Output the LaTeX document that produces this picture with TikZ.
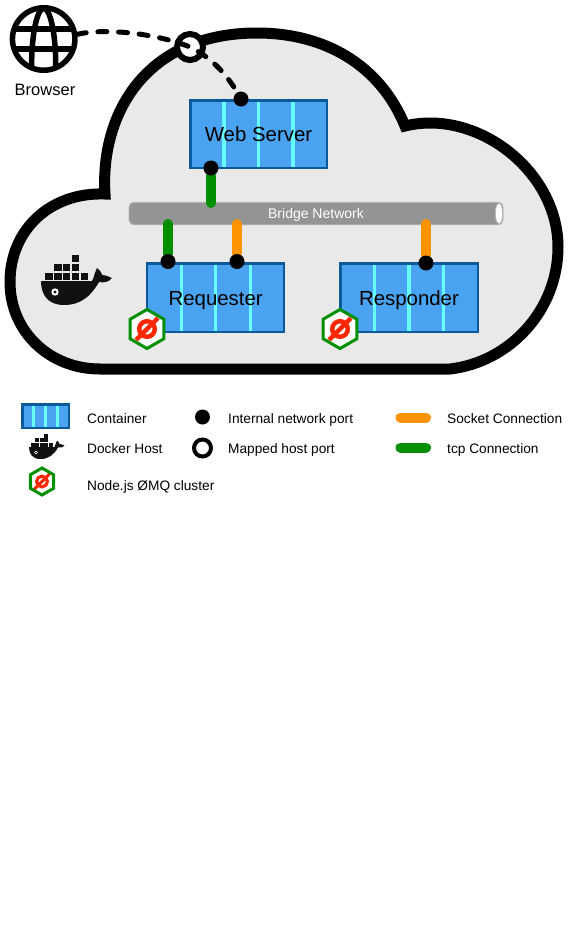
\documentclass[tikz,border=0pt]{standalone}
\usepackage{fontspec}
\setmainfont{Liberation Sans}
\usetikzlibrary{shapes.geometric}
\pgfdeclarelayer{base}
\pgfdeclarelayer{links}
\pgfsetlayers{base,links,main}
\definecolor{cloudgrey}{HTML}{E9E9E9}
\definecolor{bridgegrey}{HTML}{949494}
\definecolor{boxblue}{HTML}{4AA3F0}
\definecolor{boxedge}{HTML}{0A5A9A}
\definecolor{stripecyan}{HTML}{66FFFF}
\definecolor{socketorange}{HTML}{FF9300}
\definecolor{tcpgreen}{HTML}{008F00}
\definecolor{zmqred}{HTML}{FF2600}
\definecolor{whaleblack}{HTML}{111114}
\begin{document}
\begin{tikzpicture}[x=1pt,y=-1pt,
			container/.style={draw=boxedge,fill=boxblue,line width=2.5pt,inner sep=0pt,
				path picture={\foreach \s in {-1,0,1}
					\draw[stripecyan,line width=3.2pt] ([xshift=\s*#1 pt]path picture bounding box.north) -- ([xshift=\s*#1 pt]path picture bounding box.south);}},
			boxlabel/.style={font=\fontsize{20.4}{24}\selectfont,text height=15pt,text depth=0pt},
			legendlabel/.style={anchor=base west,inner sep=0pt,font=\fontsize{13.7}{16}\selectfont},
			port/.style={circle,fill=black,inner sep=0pt,minimum size=15pt},
			mapped/.style={circle,draw=black,fill=white,inner sep=0pt},
			socketlink/.style={socketorange,line width=10pt,line cap=round},
			tcplink/.style={tcpgreen,line width=10pt,line cap=round},
			weblink/.style={black,line width=5pt,line cap=round,dash pattern=on 9pt off 11.7pt},
			badge/.style={regular polygon,regular polygon sides=6,shape border rotate=30,draw=tcpgreen,fill=white,line width=3pt,inner sep=0pt,minimum size=#1pt,
				path picture={
					\draw[zmqred,line width=.115*#1 pt] (path picture bounding box.center) circle[radius=.2*#1 pt];
					\draw[zmqred,line width=.115*#1 pt] ([xshift=-.28*#1 pt,yshift=-.28*#1 pt]path picture bounding box.center) -- ([xshift=.28*#1 pt,yshift=.28*#1 pt]path picture bounding box.center);}},
			whale/.pic={
				\foreach \c/\r in {0/0,1/0,2/0,3/0,4/0,1/1,2/1,3/1,3/2}
					\fill[whaleblack] (\c*8.9-31,-\r*9) rectangle +(7.6,-7.4);
				\fill[whaleblack] (-35,1) -- (16,1) .. controls (18,-2) and (18,-6) .. (21,-12)
					.. controls (25,-9) and (26,-6) .. (26,-5) .. controls (30,-5) and (33,-3) .. (36,-2)
					.. controls (33,2) and (28,3) .. (23,2) .. controls (15,16) and (5,25) .. (-12,25)
					.. controls (-28,25) and (-35,15) .. (-35,1) -- cycle;
				\fill[white] (-21,12) circle[radius=3.7];
				\fill[whaleblack] (-21,12) circle[radius=1.7];
			}]
			\useasboundingbox (0,0) rectangle (575,940);
			\begin{pgfonlayer}{base}
				\draw[black,fill=cloudgrey,line width=11pt,line join=miter] (100,369) -- (450,369)
					.. controls (510,362) and (558,310) .. (558,247)
					.. controls (558,180) and (495,123) .. (430,123)
					.. controls (422,123) and (413,124) .. (405,126)
					.. controls (380,65) and (325,33) .. (257,33)
					.. controls (145,33) and (100,115) .. (105,194)
					.. controls (50,192) and (10,230) .. (10,282)
					.. controls (10,332) and (50,369) .. (100,369) -- cycle;
				\node[draw=bridgegrey!70,fill=bridgegrey,line width=.8pt,rounded corners=5pt,inner sep=0pt,minimum width=374pt,minimum height=22.5pt,text=white,text height=10pt,text depth=0pt,font=\fontsize{14}{16}\selectfont] (bridge) at (316,213.5) {Bridge Network};
				\node[ellipse,draw=bridgegrey!70,fill=white,line width=.8pt,inner sep=0pt,minimum width=7.5pt,minimum height=20.5pt] (bridgeend) at (499,213.5) {};
				\node[container=34.5,minimum width=136.5pt,minimum height=67.5pt,boxlabel] (web) at (258.5,134) {Web Server};
				\node[container=34.5,minimum width=137pt,minimum height=68.5pt,boxlabel] (requester) at (215.7,297.5) {Requester};
				\node[container=34.5,minimum width=137.5pt,minimum height=68.5pt,boxlabel] (responder) at (409,297.5) {Responder};
			\end{pgfonlayer}
			\coordinate (webdrop) at (211,203);
			\coordinate (reqtcp) at (168,224);
			\coordinate (reqsock) at (237,224);
			\coordinate (respsock) at (426,224);
			\node[circle,draw=black,fill=white,line width=5.5pt,inner sep=0pt,minimum size=62.5pt,
				path picture={
					\draw[black,line width=5.5pt] (path picture bounding box.north) .. controls +(-16,5) and +(-16,57) .. (path picture bounding box.south);
					\draw[black,line width=5.5pt] (path picture bounding box.north) .. controls +(16,5) and +(16,57) .. (path picture bounding box.south);
					\draw[black,line width=5.5pt] ([yshift=10pt]path picture bounding box.west) -- ([yshift=10pt]path picture bounding box.east);
					\draw[black,line width=5.5pt] ([yshift=-10pt]path picture bounding box.west) -- ([yshift=-10pt]path picture bounding box.east);}] (browser) at (43.7,39) {};
			\node[anchor=base,inner sep=0pt,font=\fontsize{16.5}{20}\selectfont] (browserlabel) at (45,95) {Browser};
			\pic at (76,280) {whale};
			\node[port] (webin) at (241,99) {};
			\node[port] (webout) at (211,168) {};
			\node[port] (reqin) at (168,261.5) {};
			\node[port] (reqout) at (237,261.5) {};
			\node[port] (respin) at (426,263) {};
			\node[badge=39] (reqbadge) at (147,329) {};
			\node[badge=39] (respbadge) at (340,329) {};
			\begin{pgfonlayer}{links}
				\node[mapped,line width=6pt,minimum size=26pt] (hostport) at (190,47) {};
				\draw[weblink] (browser.8) .. controls (105,28) and (155,33) .. (hostport.center)
					.. controls (212,58) and (228,75) .. (webin.center);
				\draw[tcplink] (webout) -- (webdrop);
				\draw[tcplink] (reqin) -- (reqtcp);
				\draw[socketlink] (reqout) -- (reqsock);
				\draw[socketlink] (respin) -- (respsock);
			\end{pgfonlayer}
			\node[container=12,minimum width=46.5pt,minimum height=23.5pt] (legbox) at (45.5,416) {};
			\node[legendlabel] (legboxtext) at (87,423) {Container};
			\pic[scale=.5] at (46.5,446.5) {whale};
			\node[legendlabel] (leghosttext) at (87,453) {Docker Host};
			\node[badge=27] (legbadge) at (42,481.5) {};
			\node[legendlabel] (legbadgetext) at (87,490) {Node.js ØMQ cluster};
			\node[port] (legport) at (202.5,417) {};
			\node[legendlabel] (legporttext) at (228,423) {Internal network port};
			\node[mapped,line width=4pt,minimum size=17pt] (legmapped) at (202.5,448) {};
			\node[legendlabel] (legmappedtext) at (228,453) {Mapped host port};
			\coordinate (legsockl) at (400.5,417.5);
			\coordinate (legsockr) at (426,417.5);
			\coordinate (legtcpl) at (400.5,447.5);
			\coordinate (legtcpr) at (426,447.5);
			\draw[socketlink] (legsockl) -- (legsockr);
			\draw[tcplink] (legtcpl) -- (legtcpr);
			\node[legendlabel] (legsocktext) at (447,423) {Socket Connection};
			\node[legendlabel] (legtcptext) at (447,453) {tcp Connection};
\end{tikzpicture}
\end{document}
